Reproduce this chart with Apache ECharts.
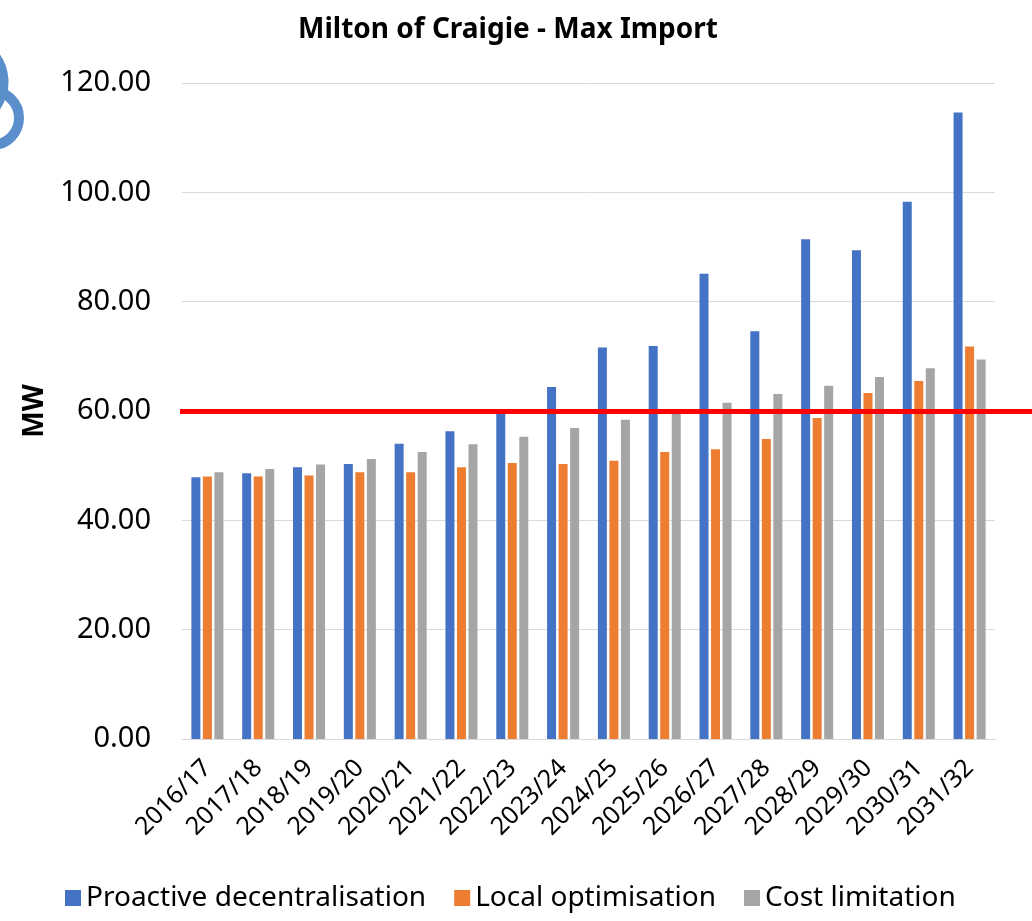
<!DOCTYPE html>
<html>
<head>
<meta charset="utf-8">
<script src="https://cdn.jsdelivr.net/npm/echarts@6/dist/echarts.min.js"></script>
<style>
  html, body { margin: 0; padding: 0; background: #fff; }
  #main_chart { width: 1032px; height: 921px; }
</style>
</head>
<body>
<div id="main_chart"></div>
<script>
  const years = ['2016/17', '2017/18', '2018/19', '2019/20', '2020/21', '2021/22', '2022/23', '2023/24',
    '2024/25', '2025/26', '2026/27', '2027/28', '2028/29', '2029/30', '2030/31', '2031/32'];

  const proactive = [47.9, 48.6, 49.7, 50.3, 54.0, 56.3, 60.1, 64.4, 71.6, 71.9, 85.1, 74.6, 91.4, 89.4, 98.3, 114.6];
  const localOpt  = [48.0, 48.0, 48.2, 48.8, 48.8, 49.7, 50.5, 50.3, 50.9, 52.5, 53.0, 54.9, 58.7, 63.3, 65.5, 71.8];
  const costLimit = [48.8, 49.4, 50.2, 51.2, 52.5, 53.9, 55.3, 56.9, 58.4, 59.7, 61.5, 63.1, 64.6, 66.2, 67.8, 69.4];

  const yTicks = [0, 20, 40, 60, 80, 100, 120];
  const limitMW = 60;

  const FONT = 'Noto Sans';
  const GRID_LEFT = 182;

  var chartDom = document.getElementById('main_chart');
  var myChart = echarts.init(chartDom, null, { renderer: 'canvas' });
  var option;

  function barSeries(name, data, color) {
    return {
      name: name,
      type: 'bar',
      data: data,
      barWidth: 9,
      barGap: '28%',
      itemStyle: { color: color },
      emphasis: { disabled: true }
    };
  }

  const series = [
    barSeries('Proactive decentralisation', proactive, '#4472C4'),
    barSeries('Local optimisation', localOpt, '#ED7D31'),
    barSeries('Cost limitation', costLimit, '#A5A5A5')
  ];

  // red limit line, runs past the plot to the right edge like the original
  series[0].markLine = {
    silent: true,
    symbol: 'none',
    label: { show: false },
    lineStyle: { color: '#FF0000', width: 5, type: 'solid' },
    data: [[{ yAxis: limitMW, x: GRID_LEFT - 2 }, { yAxis: limitMW, x: '100%' }]]
  };

  option = {
    backgroundColor: '#fff',
    animation: false,
    textStyle: { fontFamily: FONT },
    title: {
      text: 'Milton of Craigie - Max Import',
      left: 503,
      textAlign: 'center',
      top: 11,
      textStyle: { fontFamily: FONT, fontSize: 28, fontWeight: 'bold', color: '#000' }
    },
    legend: {
      data: series.map(s => s.name),
      left: 60,
      bottom: 4,
      itemWidth: 16,
      itemHeight: 16,
      itemGap: 28,
      icon: 'rect',
      textStyle: { fontFamily: FONT, fontSize: 28, color: '#000' }
    },
    grid: {
      left: GRID_LEFT,
      right: 37,
      top: 83,
      bottom: 182
    },
    xAxis: {
      type: 'category',
      data: years,
      axisLine: { lineStyle: { color: '#D9D9D9', width: 1 } },
      axisTick: { show: false },
      axisLabel: {
        rotate: 45,
        interval: 0,
        margin: 25,
        fontFamily: FONT,
        fontSize: 25,
        color: '#000'
      }
    },
    yAxis: {
      type: 'value',
      min: yTicks[0],
      max: yTicks[yTicks.length - 1],
      interval: yTicks[1] - yTicks[0],
      name: 'MW',
      nameLocation: 'middle',
      nameRotate: 90,
      nameGap: 131,
      nameTextStyle: { fontFamily: FONT, fontSize: 28, fontWeight: 'bold', color: '#000' },
      axisLine: { show: false },
      axisTick: { show: false },
      splitLine: { lineStyle: { color: '#D9D9D9', width: 1 } },
      axisLabel: {
        margin: 31,
        fontFamily: FONT,
        fontSize: 29,
        color: '#000',
        formatter: v => v.toFixed(2)
      }
    },
    graphic: [
      // cut-off logo at the top-left corner
      { type: 'circle', shape: { cx: -8, cy: 118, r: 27 }, style: { fill: 'none', stroke: '#5B8FCB', lineWidth: 10 } },
      { type: 'arc', shape: { cx: -40, cy: 82, r: 44, startAngle: -Math.PI / 4, endAngle: Math.PI / 5 }, style: { fill: 'none', stroke: '#5B8FCB', lineWidth: 9 } }
    ],
    series: series
  };

  option && myChart.setOption(option);
</script>
</body>
</html>
